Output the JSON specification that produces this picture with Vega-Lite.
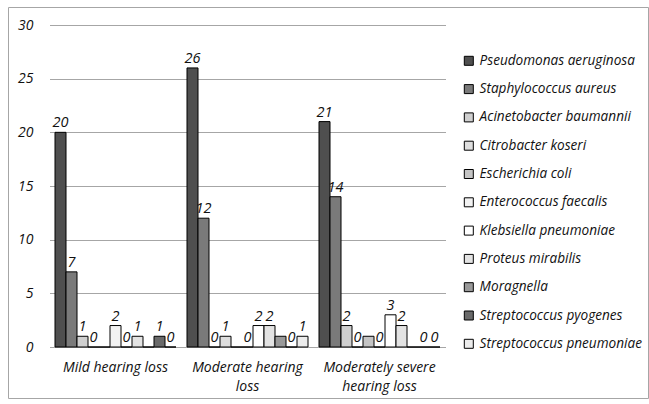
{
  "$schema": "https://vega.github.io/schema/vega-lite/v6.json",
  "width": 640,
  "height": 391,
  "autosize": {"type": "none"},
  "padding": {"left": 8, "top": 7, "right": 1, "bottom": 6},
  "background": "white",
  "config": {
    "view": {"stroke": "#a6a6a6", "strokeWidth": 1},
    "font": "Open Sans",
    "text": {"font": "Open Sans"}
  },
  "data": {
    "values": [
      {"grade": "Mild hearing loss", "species": "Pseudomonas aeruginosa", "n": 20},
      {"grade": "Mild hearing loss", "species": "Staphylococcus aureus", "n": 7},
      {"grade": "Mild hearing loss", "species": "Acinetobacter baumannii", "n": 1},
      {"grade": "Mild hearing loss", "species": "Citrobacter koseri", "n": 0},
      {"grade": "Mild hearing loss", "species": "Escherichia coli", "n": 0},
      {"grade": "Mild hearing loss", "species": "Enterococcus faecalis", "n": 2},
      {"grade": "Mild hearing loss", "species": "Klebsiella pneumoniae", "n": 0},
      {"grade": "Mild hearing loss", "species": "Proteus mirabilis", "n": 1},
      {"grade": "Mild hearing loss", "species": "Moragnella", "n": 0},
      {"grade": "Mild hearing loss", "species": "Streptococcus pyogenes", "n": 1},
      {"grade": "Mild hearing loss", "species": "Streptococcus pneumoniae", "n": 0},
      {"grade": "Moderate hearing loss", "species": "Pseudomonas aeruginosa", "n": 26},
      {"grade": "Moderate hearing loss", "species": "Staphylococcus aureus", "n": 12},
      {"grade": "Moderate hearing loss", "species": "Acinetobacter baumannii", "n": 0},
      {"grade": "Moderate hearing loss", "species": "Citrobacter koseri", "n": 1},
      {"grade": "Moderate hearing loss", "species": "Escherichia coli", "n": 0},
      {"grade": "Moderate hearing loss", "species": "Enterococcus faecalis", "n": 0},
      {"grade": "Moderate hearing loss", "species": "Klebsiella pneumoniae", "n": 2},
      {"grade": "Moderate hearing loss", "species": "Proteus mirabilis", "n": 2},
      {"grade": "Moderate hearing loss", "species": "Moragnella", "n": 1},
      {"grade": "Moderate hearing loss", "species": "Streptococcus pyogenes", "n": 0},
      {"grade": "Moderate hearing loss", "species": "Streptococcus pneumoniae", "n": 1},
      {"grade": "Moderately severe hearing loss", "species": "Pseudomonas aeruginosa", "n": 21},
      {"grade": "Moderately severe hearing loss", "species": "Staphylococcus aureus", "n": 14},
      {"grade": "Moderately severe hearing loss", "species": "Acinetobacter baumannii", "n": 2},
      {"grade": "Moderately severe hearing loss", "species": "Citrobacter koseri", "n": 0},
      {"grade": "Moderately severe hearing loss", "species": "Escherichia coli", "n": 1},
      {"grade": "Moderately severe hearing loss", "species": "Enterococcus faecalis", "n": 0},
      {"grade": "Moderately severe hearing loss", "species": "Klebsiella pneumoniae", "n": 3},
      {"grade": "Moderately severe hearing loss", "species": "Proteus mirabilis", "n": 2},
      {"grade": "Moderately severe hearing loss", "species": "Moragnella", "n": 0},
      {"grade": "Moderately severe hearing loss", "species": "Streptococcus pyogenes", "n": 0},
      {"grade": "Moderately severe hearing loss", "species": "Streptococcus pneumoniae", "n": 0}
    ]
  },
  "encoding": {
    "x": {
      "field": "grade",
      "type": "nominal",
      "sort": ["Mild hearing loss", "Moderate hearing loss", "Moderately severe hearing loss"],
      "scale": {"range": [41.5, 437.5], "paddingInner": 0, "paddingOuter": 0},
      "axis": {
        "title": null,
        "orient": "bottom",
        "offset": -51,
        "domain": false,
        "ticks": false,
        "labelAngle": 0,
        "labelPadding": 13,
        "labelFont": "Open Sans",
        "labelFontStyle": "italic",
        "labelFontSize": 14,
        "labelColor": "#111111",
        "labelLineHeight": 19,
        "labelLimit": 200,
        "labelExpr": "datum.value == 'Moderate hearing loss' ? ['Moderate hearing', 'loss'] : datum.value == 'Moderately severe hearing loss' ? ['Moderately severe', 'hearing loss'] : datum.value"
      }
    },
    "xOffset": {
      "field": "species",
      "sort": ["Pseudomonas aeruginosa", "Staphylococcus aureus", "Acinetobacter baumannii", "Citrobacter koseri", "Escherichia coli", "Enterococcus faecalis", "Klebsiella pneumoniae", "Proteus mirabilis", "Moragnella", "Streptococcus pyogenes", "Streptococcus pneumoniae"],
      "scale": {"paddingInner": 0, "paddingOuter": 0.5}
    },
    "y": {
      "field": "n",
      "type": "quantitative",
      "scale": {"domain": [0, 30], "range": [340, 18], "nice": false, "zero": true},
      "axis": {
        "title": null,
        "values": [0, 5, 10, 15, 20, 25, 30],
        "offset": -33,
        "domain": false,
        "ticks": false,
        "grid": true,
        "gridColor": "#a6a6a6",
        "gridWidth": 1,
        "labelPadding": 8,
        "labelFont": "Open Sans",
        "labelFontStyle": "italic",
        "labelFontSize": 14,
        "labelColor": "#111111"
      }
    }
  },
  "layer": [
    {
      "mark": {"type": "bar", "stroke": "black", "strokeWidth": 1},
      "encoding": {
        "fill": {
          "field": "species",
          "type": "nominal",
          "scale": {
            "domain": ["Pseudomonas aeruginosa", "Staphylococcus aureus", "Acinetobacter baumannii", "Citrobacter koseri", "Escherichia coli", "Enterococcus faecalis", "Klebsiella pneumoniae", "Proteus mirabilis", "Moragnella", "Streptococcus pyogenes", "Streptococcus pneumoniae"],
            "range": ["#4f4f4f", "#7a7a7a", "#cfcfcf", "#dedede", "#c4c4c4", "#f2f2f2", "#ffffff", "#e3e3e3", "#999999", "#6a6a6a", "#ececec"]
          },
          "legend": {
            "title": null,
            "orient": "none",
            "legendX": 454,
            "legendY": 47,
            "padding": 0,
            "symbolType": "square",
            "symbolSize": 81,
            "symbolStrokeColor": "black",
            "symbolStrokeWidth": 1,
            "rowPadding": 13.3,
            "labelOffset": 4,
            "labelFont": "Open Sans",
            "labelFontStyle": "italic",
            "labelFontSize": 13.6,
            "labelColor": "#111111",
            "labelLimit": 200
          }
        }
      }
    },
    {
      "transform": [
        {"filter": "datum.species != 'Escherichia coli' && datum.species != 'Moragnella'"}
      ],
      "mark": {
        "type": "text",
        "dy": -9,
        "font": "Open Sans",
        "fontStyle": "italic",
        "fontSize": 14.5,
        "color": "#111111"
      },
      "encoding": {
        "text": {"field": "n", "type": "quantitative"}
      }
    }
  ]
}
